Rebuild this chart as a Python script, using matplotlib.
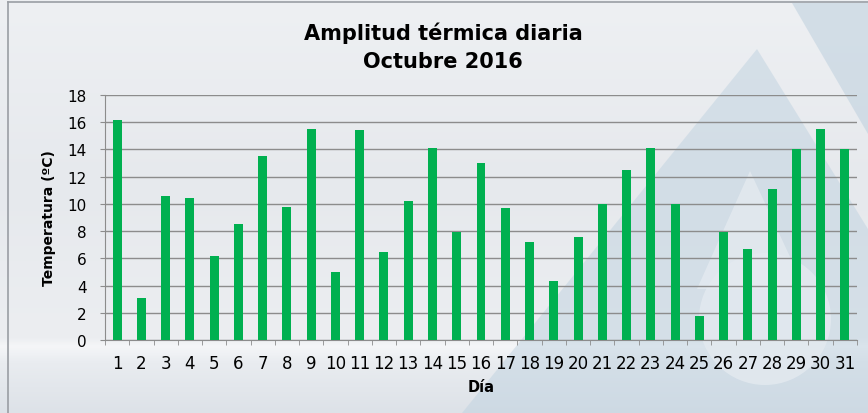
import numpy as np
import matplotlib
matplotlib.use('Agg')
import matplotlib.pyplot as plt
from matplotlib.patches import Polygon, Circle
from matplotlib.colors import LinearSegmentedColormap

plt.rcParams['font.family'] = ['DejaVu Sans']

# datos
dias = list(range(1, 32))
amplitud = [16.2, 3.1, 10.6, 10.4, 6.2, 8.5, 13.5, 9.8, 15.5, 5.0,
            15.4, 6.5, 10.2, 14.1, 7.9, 13.0, 9.7, 7.2, 4.3, 7.6,
            10.0, 12.5, 14.1, 10.0, 1.8, 7.9, 6.7, 11.1, 14.0, 15.5, 14.0]
yticks = list(range(0, 20, 2))
titulo = 'Amplitud térmica diaria\nOctubre 2016'

W, H = 868, 414
fig = plt.figure(figsize=(W / 100, H / 100), dpi=100)

# fondo con degradado y marca de agua
bg = fig.add_axes([0, 0, 1, 1])
bg.set_xlim(0, W)
bg.set_ylim(H, 0)
bg.axis('off')
cmap = LinearSegmentedColormap.from_list('fondo', [
    (0.0, '#eef0f3'), (0.45, '#e6e9ed'), (0.82, '#eceef1'),
    (0.84, '#f5f6f8'), (0.88, '#e9ecf0'), (1.0, '#dde2e8')])
grad = np.linspace(0, 1, 256).reshape(-1, 1)
bg.imshow(grad, cmap=cmap, extent=[0, W, H, 0], aspect='auto', zorder=0)
bg.add_patch(Polygon([(792, 4), (868, 4), (868, 135)], closed=True,
                     facecolor='#b9cddc', alpha=0.5, lw=0, zorder=1))
bg.add_patch(Polygon([(757, 50), (462, 414), (868, 414), (868, 230)], closed=True,
                     facecolor='#bfd2e0', alpha=0.5, lw=0, zorder=1))
bg.add_patch(Polygon([(750, 172), (697, 290), (805, 290)], closed=True,
                     facecolor='#e4eaf0', alpha=0.8, lw=0, zorder=2))
bg.add_patch(Circle((765, 320), 66, facecolor='#e4eaf0', alpha=0.8, lw=0, zorder=2))
bg.plot([8, 8], [3, H], color='#9a9ea4', lw=1.2, zorder=3)
bg.plot([8, W], [3, 3], color='#9a9ea4', lw=1.2, zorder=3)

ax = fig.add_axes([105 / W, 1 - 341 / H, (857 - 105) / W, (341 - 96) / H])
ax.patch.set_alpha(0)
ax.bar(dias, amplitud, width=0.37, color='#00b050', zorder=3)

ax.set_xlim(0.5, 31.5)
ax.set_ylim(0, 18)
ax.set_yticks(yticks)
ax.set_xticks(dias)
ax.set_xticks(np.arange(0.5, 32, 1), minor=True)
ax.tick_params(axis='x', which='major', length=0, pad=10, labelsize=12)
ax.tick_params(axis='x', which='minor', length=3.6, color='#8c8c8c', direction='out')
ax.tick_params(axis='y', length=3.6, color='#8c8c8c', pad=9.5, labelsize=11)
ax.grid(axis='y', color='#8c8c8c', lw=1, zorder=1)
for s in ['top', 'right']:
    ax.spines[s].set_visible(False)
for s in ['left', 'bottom']:
    ax.spines[s].set_color('#8c8c8c')

ax.set_ylabel('Temperatura (ºC)', fontsize=10, fontweight='bold', labelpad=8)
ax.set_xlabel('Día', fontsize=10.5, fontweight='bold', labelpad=5)

fig.text(443 / W, 1 - 47 / H, titulo, ha='center', va='center',
         fontsize=15, fontweight='bold', linespacing=1.5)

fig.savefig('out.png', dpi=100)
